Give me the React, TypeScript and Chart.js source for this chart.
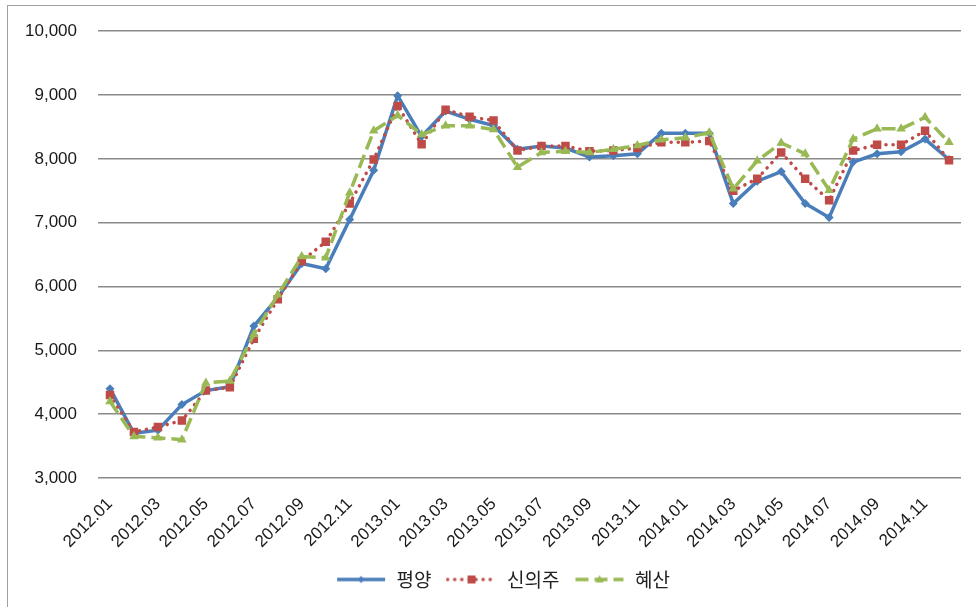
import React, { useEffect, useRef } from "react";
import { Chart, registerables } from "chart.js";

Chart.register(...registerables);

const categories = [
  "2012.01", "2012.02", "2012.03", "2012.04", "2012.05", "2012.06",
  "2012.07", "2012.08", "2012.09", "2012.10", "2012.11", "2012.12",
  "2013.01", "2013.02", "2013.03", "2013.04", "2013.05", "2013.06",
  "2013.07", "2013.08", "2013.09", "2013.10", "2013.11", "2013.12",
  "2014.01", "2014.02", "2014.03", "2014.04", "2014.05", "2014.06",
  "2014.07", "2014.08", "2014.09", "2014.10", "2014.11", "2014.12",
];

const pyongyang = [
  4400, 3700, 3750, 4150, 4370, 4430, 5380, 5830, 6360, 6280, 7050, 7820,
  8990, 8350, 8750, 8620, 8520, 8150, 8200, 8170, 8030, 8050, 8080, 8400,
  8400, 8400, 7300, 7650, 7800, 7300, 7080, 7950, 8080, 8110, 8310, 7990,
];

const sinuiju = [
  4300, 3720, 3800, 3900, 4370, 4420, 5180, 5800, 6400, 6700, 7300, 7990,
  8830, 8230, 8770, 8660, 8600, 8130, 8200, 8200, 8120, 8130, 8170, 8260,
  8260, 8280, 7500, 7690, 8100, 7690, 7350, 8130, 8220, 8220, 8440, 7980,
];

const hyesan = [
  4200, 3650, 3630, 3600, 4490, 4520, 5250, 5870, 6470, 6450, 7470, 8440,
  8680, 8380, 8520, 8520, 8460, 7870, 8100, 8120, 8100, 8150, 8210, 8300,
  8330, 8410, 7530, 7970, 8250, 8080, 7510, 8310, 8470, 8470, 8650, 8260,
];

const seriesNames = ["평양", "신의주", "혜산"];
const yTicks = [3000, 4000, 5000, 6000, 7000, 8000, 9000, 10000];

const BLUE = "#4a7ebb";
const RED = "#be4b48";
const GREEN = "#98b954";

type MarkerKind = "diamond" | "square" | "triangle";

function makeSymbol(color: string, dash: number[], cap: CanvasLineCap, marker: MarkerKind): HTMLCanvasElement {
  const c = document.createElement("canvas");
  c.width = 52;
  c.height = 16;
  const ctx = c.getContext("2d")!;
  ctx.strokeStyle = color;
  ctx.lineWidth = 3.5;
  ctx.lineCap = cap;
  ctx.setLineDash(dash);
  ctx.beginPath();
  ctx.moveTo(2, 8);
  ctx.lineTo(50, 8);
  ctx.stroke();
  ctx.setLineDash([]);
  ctx.fillStyle = color;
  ctx.beginPath();
  if (marker === "diamond") {
    ctx.moveTo(26, 4.5);
    ctx.lineTo(29.5, 8);
    ctx.lineTo(26, 11.5);
    ctx.lineTo(22.5, 8);
  } else if (marker === "square") {
    ctx.rect(22, 4, 8, 8);
  } else {
    ctx.moveTo(26, 3.5);
    ctx.lineTo(30, 11);
    ctx.lineTo(22, 11);
  }
  ctx.closePath();
  ctx.fill();
  return c;
}

const legendShift = {
  id: "legendShift",
  afterLayout(chart: any) {
    if (chart.legend) {
      chart.legend.left += 22;
      chart.legend.right += 22;
    }
  },
};

export default function App() {
  const canvasRef = useRef<HTMLCanvasElement | null>(null);

  useEffect(() => {
    if (!canvasRef.current) return;
    const symbols = [
      makeSymbol(BLUE, [], "butt", "diamond"),
      makeSymbol(RED, [0.1, 7], "round", "square"),
      makeSymbol(GREEN, [13, 6], "butt", "triangle"),
    ];
    const tickFont = { family: "'Liberation Sans', Arial, sans-serif", size: 17 };
    const chart = new Chart(canvasRef.current, {
      type: "line",
      plugins: [legendShift],
      data: {
        labels: categories,
        datasets: [
          {
            label: seriesNames[0],
            data: pyongyang,
            borderColor: BLUE,
            backgroundColor: BLUE,
            borderWidth: 3.5,
            pointStyle: "rectRot",
            pointRadius: 4.5,
            pointBorderWidth: 0,
            pointBackgroundColor: BLUE,
            tension: 0,
            order: 3,
          },
          {
            label: seriesNames[1],
            data: sinuiju,
            borderColor: RED,
            backgroundColor: RED,
            borderWidth: 3.5,
            borderDash: [0.1, 7],
            borderCapStyle: "round",
            pointStyle: "rect",
            pointRadius: 6,
            pointBorderWidth: 0,
            pointBackgroundColor: RED,
            tension: 0,
            order: 2,
          },
          {
            label: seriesNames[2],
            data: hyesan,
            borderColor: GREEN,
            backgroundColor: GREEN,
            borderWidth: 3.5,
            borderDash: [14, 6],
            pointStyle: "triangle",
            pointRadius: 5.5,
            pointBorderWidth: 0,
            pointBackgroundColor: GREEN,
            tension: 0,
            order: 1,
          },
        ],
      },
      options: {
        responsive: false,
        animation: false,
        layout: { padding: { left: 0, right: 15, top: 27, bottom: 8 } },
        plugins: {
          tooltip: { enabled: false },
          legend: {
            position: "bottom",
            labels: {
              usePointStyle: true,
              pointStyleWidth: 52,
              boxHeight: 16,
              padding: 14,
              color: "#222",
              font: { family: "'Noto Sans CJK KR', sans-serif", size: 19 },
              generateLabels: () =>
                seriesNames.map((name, i) => ({
                  text: name,
                  pointStyle: symbols[i] as any,
                  datasetIndex: i,
                  hidden: false,
                  fillStyle: "transparent",
                  strokeStyle: "transparent",
                  lineWidth: 0,
                  fontColor: "#222",
                })),
            },
          },
        },
        scales: {
          x: {
            type: "category",
            offset: true,
            grid: { display: false },
            border: { display: false },
            afterFit: (scale: any) => {
              scale.height = 78;
            },
            ticks: {
              autoSkip: false,
              maxRotation: 45,
              minRotation: 45,
              padding: 8,
              color: "#1a1a1a",
              font: tickFont,
              callback: (_v: any, idx: number) => (idx % 2 === 0 ? categories[idx] : ""),
            },
          },
          y: {
            min: yTicks[0],
            max: yTicks[yTicks.length - 1],
            afterFit: (scale: any) => {
              scale.width = 98;
            },
            afterBuildTicks: (scale: any) => {
              scale.ticks = yTicks.map((v) => ({ value: v }));
            },
            grid: { color: "#8a8a8a", lineWidth: 1.5, drawTicks: false },
            border: { display: false },
            ticks: {
              padding: 21,
              color: "#1a1a1a",
              font: tickFont,
              callback: (v: any) => Number(v).toLocaleString("en-US"),
            },
          },
        },
      },
    });
    return () => chart.destroy();
  }, []);

  return (
    <div style={{ position: "fixed", left: 0, top: 0, width: 976, height: 607, background: "#fff", overflow: "hidden" }}>
      <div
        style={{
          position: "absolute",
          left: 7,
          top: 5,
          width: 1200,
          height: 800,
          border: "1px solid #a0a0a0",
          boxSizing: "border-box",
        }}
      />
      <canvas ref={canvasRef} width={976} height={607} style={{ position: "absolute", left: 0, top: 0, width: 976, height: 607 }} />
    </div>
  );
}
